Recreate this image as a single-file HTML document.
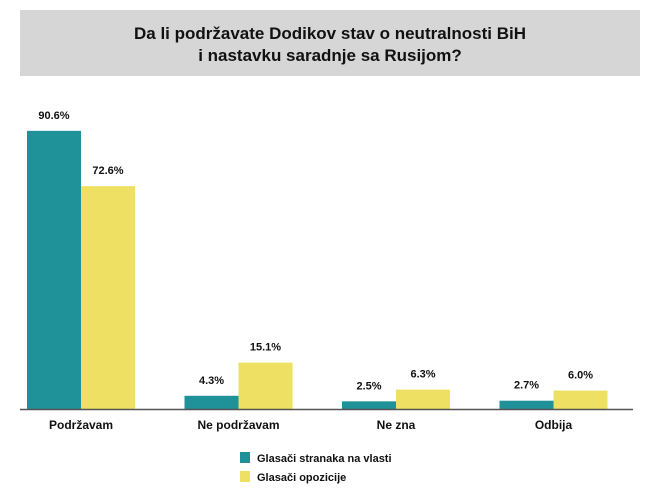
<!DOCTYPE html>
<html><head><meta charset="utf-8"><style>
body{margin:0;background:#fff;font-family:"Liberation Sans",sans-serif;}
</style></head><body>
<svg width="651" height="497" xmlns="http://www.w3.org/2000/svg">
<rect x="20" y="10" width="620" height="66" fill="#d6d6d6"/>
<text x="330" y="39" text-anchor="middle" font-size="17" font-weight="bold" fill="#111">Da li podržavate Dodikov stav o neutralnosti BiH</text>
<text x="330" y="61" text-anchor="middle" font-size="17" font-weight="bold" fill="#111">i nastavku saradnje sa Rusijom?</text>
<g id="bars"></g>
<line x1="20" y1="409.5" x2="633" y2="409.5" stroke="#555" stroke-width="1.5"/>
<rect x="240" y="452" width="10" height="11" fill="#1f9199"/>
<text x="257" y="462" font-size="11" font-weight="bold" fill="#111">Glasači stranaka na vlasti</text>
<rect x="240" y="471" width="10" height="11" fill="#ede062"/>
<text x="257" y="481" font-size="11" font-weight="bold" fill="#111">Glasači opozicije</text>
</svg>
<script>
const categories=["Podržavam","Ne podržavam","Ne zna","Odbija"];
const governmentValues=[90.6,4.3,2.5,2.7];
const oppositionValues=[72.6,15.1,6.3,6.0];
const g=document.getElementById('bars');
const NS='http://www.w3.org/2000/svg';
const base=409, scale=3.07, barW=54, groupStart=27, groupStep=157.5;
function y(v){return base-v*scale;}
function mk(t,a){const e=document.createElementNS(NS,t);for(const k in a)e.setAttribute(k,a[k]);g.appendChild(e);return e;}
categories.forEach((c,i)=>{
  const x0=groupStart+i*groupStep;
  [[governmentValues,'#1f9199','government'],[oppositionValues,'#ede062','opposition']].forEach(([arr,col,nm],j)=>{
    const v=arr[i], x=x0+j*barW;
    const r=mk('rect',{x:x,y:y(v),width:barW,height:v*scale,fill:col});
    
    
    const t=mk('text',{x:x+barW/2,y:y(v)-12,'text-anchor':'middle','font-size':'11','font-weight':'bold',fill:'#111'});
    t.textContent=v.toFixed(1)+'%';
    
    
  });
  const l=mk('text',{x:x0+barW,y:429,'text-anchor':'middle','font-size':'12','font-weight':'bold',fill:'#111'});
  l.textContent=c;
  
  
});
</script>
</body></html>
